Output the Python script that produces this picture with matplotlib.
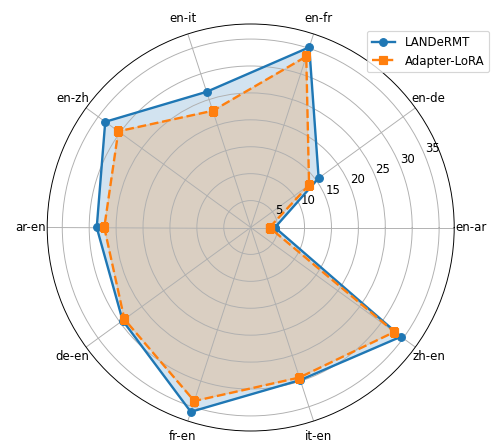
import numpy as np
import matplotlib
matplotlib.use('Agg')
import matplotlib.pyplot as plt

# language pairs, counter-clockwise from 0 degrees
pairs = ['en-ar', 'en-de', 'en-fr', 'en-it', 'en-zh',
         'ar-en', 'de-en', 'fr-en', 'it-en', 'zh-en']

landermt = [4.5, 15.6, 35.2, 26.5, 33.4, 28.6, 29.4, 36.0, 29.8, 34.5]
adapter_lora = [3.5, 13.4, 33.4, 22.8, 30.4, 27.2, 29.0, 33.9, 29.3, 33.0]

angles = np.linspace(0, 2*np.pi, len(pairs), endpoint=False)
ang = np.concatenate([angles, angles[:1]])

def closed(v):
    return np.concatenate([v, v[:1]])

W, H = 491, 443
DPI = 85
cx, cy, R = 250.7, 227.5, 203.5

fig = plt.figure(figsize=(W/DPI, H/DPI), dpi=DPI)
ax = fig.add_axes([(cx-R)/W, (H-cy-R)/H, 2*R/W, 2*R/H], projection='polar')

ax.plot(ang, closed(landermt), color='tab:blue', linestyle='-',
        linewidth=2, marker='o', markersize=6.5, label='LANDeRMT')
ax.fill(ang, closed(landermt), color='tab:blue', alpha=0.2)
ax.plot(ang, closed(adapter_lora), color='tab:orange', linestyle='--',
        linewidth=2, marker='s', markersize=6.5, label='Adapter-LoRA')
ax.fill(ang, closed(adapter_lora), color='tab:orange', alpha=0.2)

ax.set_xticks(angles)
ax.set_xticklabels(pairs)
ax.set_ylim(0, 37.8)
ax.set_yticks(np.arange(5, 36, 5))
ax.grid(True, color='#b0b0b0', linewidth=0.8)

ax.legend(loc='upper right', bbox_to_anchor=(489/W, 1 - 31/H),
          bbox_transform=fig.transFigure, borderaxespad=0)

fig.savefig('out.png', dpi=DPI)
